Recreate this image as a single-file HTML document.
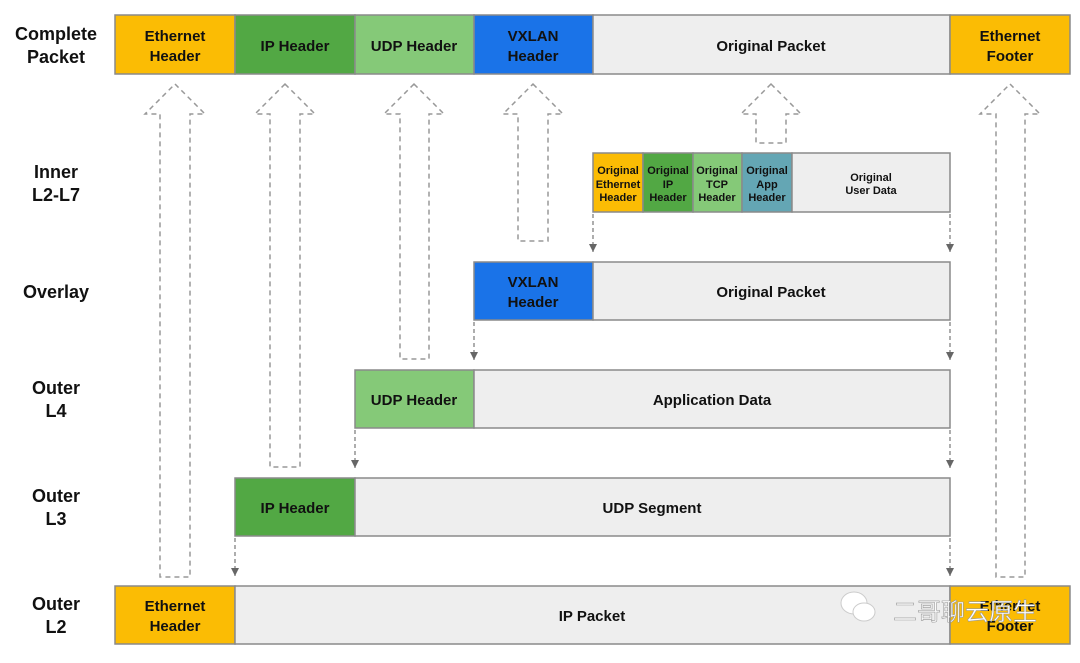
<!DOCTYPE html>
<html><head><meta charset="utf-8"><style>
body{margin:0;background:#fff}
text{font-family:"Liberation Sans","Noto Sans CJK SC",sans-serif;font-weight:bold;fill:#111}
</style></head><body>
<svg width="1080" height="658" viewBox="0 0 1080 658" xmlns="http://www.w3.org/2000/svg">
<defs><marker id="ah" markerWidth="8" markerHeight="8" refX="8" refY="4" orient="auto" markerUnits="userSpaceOnUse"><path d="M0,0 L8,4 L0,8 z" fill="#666"/></marker></defs>
<g stroke="#8a8a8a" stroke-width="1.5">
<rect x="115" y="15" width="120" height="59" fill="#fbbc04"/>
<rect x="235" y="15" width="120" height="59" fill="#52a844"/>
<rect x="355" y="15" width="119" height="59" fill="#85c978"/>
<rect x="474" y="15" width="119" height="59" fill="#1a73e8"/>
<rect x="593" y="15" width="357" height="59" fill="#eeeeee"/>
<rect x="950" y="15" width="120" height="59" fill="#fbbc04"/>
<rect x="593" y="153" width="50" height="59" fill="#fbbc04"/>
<rect x="643" y="153" width="50" height="59" fill="#52a844"/>
<rect x="693" y="153" width="49" height="59" fill="#85c978"/>
<rect x="742" y="153" width="50" height="59" fill="#64a6b4"/>
<rect x="792" y="153" width="158" height="59" fill="#eeeeee"/>
<rect x="474" y="262" width="119" height="58" fill="#1a73e8"/>
<rect x="593" y="262" width="357" height="58" fill="#eeeeee"/>
<rect x="355" y="370" width="119" height="58" fill="#85c978"/>
<rect x="474" y="370" width="476" height="58" fill="#eeeeee"/>
<rect x="235" y="478" width="120" height="58" fill="#52a844"/>
<rect x="355" y="478" width="595" height="58" fill="#eeeeee"/>
<rect x="115" y="586" width="120" height="58" fill="#fbbc04"/>
<rect x="235" y="586" width="715" height="58" fill="#eeeeee"/>
<rect x="950" y="586" width="120" height="58" fill="#fbbc04"/>
</g>
<g fill="none" stroke="#999" stroke-width="1.5" stroke-dasharray="5,4">
<path d="M175,84 L205,114 L190,114 L190,577 L160,577 L160,114 L145,114 Z"/>
<path d="M285,84 L315,114 L300,114 L300,467 L270,467 L270,114 L255,114 Z"/>
<path d="M414,84 L444,114 L429,114 L429,359 L400,359 L400,114 L384,114 Z"/>
<path d="M533,84 L563,114 L548,114 L548,241 L518,241 L518,114 L503,114 Z"/>
<path d="M771,84 L801,114 L786,114 L786,143 L756,143 L756,114 L741,114 Z"/>
<path d="M1010,84 L1040,114 L1025,114 L1025,577 L996,577 L996,114 L980,114 Z"/>
</g>
<g stroke="#777" stroke-width="1.2" stroke-dasharray="4,3" marker-end="url(#ah)">
<line x1="593" y1="214" x2="593" y2="252"/><line x1="950" y1="214" x2="950" y2="252"/>
<line x1="474" y1="322" x2="474" y2="360"/><line x1="950" y1="322" x2="950" y2="360"/>
<line x1="355" y1="430" x2="355" y2="468"/><line x1="950" y1="430" x2="950" y2="468"/>
<line x1="235" y1="538" x2="235" y2="576"/><line x1="950" y1="538" x2="950" y2="576"/>
</g>
<g font-size="18" text-anchor="middle">
<text x="56" y="40">Complete</text><text x="56" y="63">Packet</text>
<text x="56" y="178">Inner</text><text x="56" y="201">L2-L7</text>
<text x="56" y="298">Overlay</text>
<text x="56" y="394">Outer</text><text x="56" y="417">L4</text>
<text x="56" y="502">Outer</text><text x="56" y="525">L3</text>
<text x="56" y="610">Outer</text><text x="56" y="633">L2</text>
</g>
<g font-size="15" text-anchor="middle">
<text x="175" y="41">Ethernet</text><text x="175" y="61">Header</text>
<text x="295" y="51">IP Header</text>
<text x="414" y="51">UDP Header</text>
<text x="533" y="41">VXLAN</text><text x="533" y="61">Header</text>
<text x="771" y="51">Original Packet</text>
<text x="1010" y="41">Ethernet</text><text x="1010" y="61">Footer</text>
<text x="533" y="287">VXLAN</text><text x="533" y="307">Header</text>
<text x="771" y="297">Original Packet</text>
<text x="414" y="405">UDP Header</text>
<text x="712" y="405">Application Data</text>
<text x="295" y="513">IP Header</text>
<text x="652" y="513">UDP Segment</text>
<text x="175" y="611">Ethernet</text><text x="175" y="631">Header</text>
<text x="592" y="621">IP Packet</text>
<text x="1010" y="611">Ethernet</text><text x="1010" y="631">Footer</text>
</g>
<g font-size="11" text-anchor="middle">
<text x="618" y="174">Original</text><text x="618" y="188">Ethernet</text><text x="618" y="201">Header</text>
<text x="668" y="174">Original</text><text x="668" y="188">IP</text><text x="668" y="201">Header</text>
<text x="717" y="174">Original</text><text x="717" y="188">TCP</text><text x="717" y="201">Header</text>
<text x="767" y="174">Original</text><text x="767" y="188">App</text><text x="767" y="201">Header</text>
<text x="871" y="181">Original</text><text x="871" y="194">User Data</text>
</g>
<g fill="#fff" stroke="#ccc" stroke-width="1">
<ellipse cx="854" cy="603" rx="13" ry="11"/>
<ellipse cx="864" cy="612" rx="11" ry="9"/>
</g>
<text x="965" y="620" font-size="24" text-anchor="middle" style="fill:#fff;stroke:#999;stroke-width:0.6;font-weight:normal">二哥聊云原生</text>
</svg>
</body></html>
